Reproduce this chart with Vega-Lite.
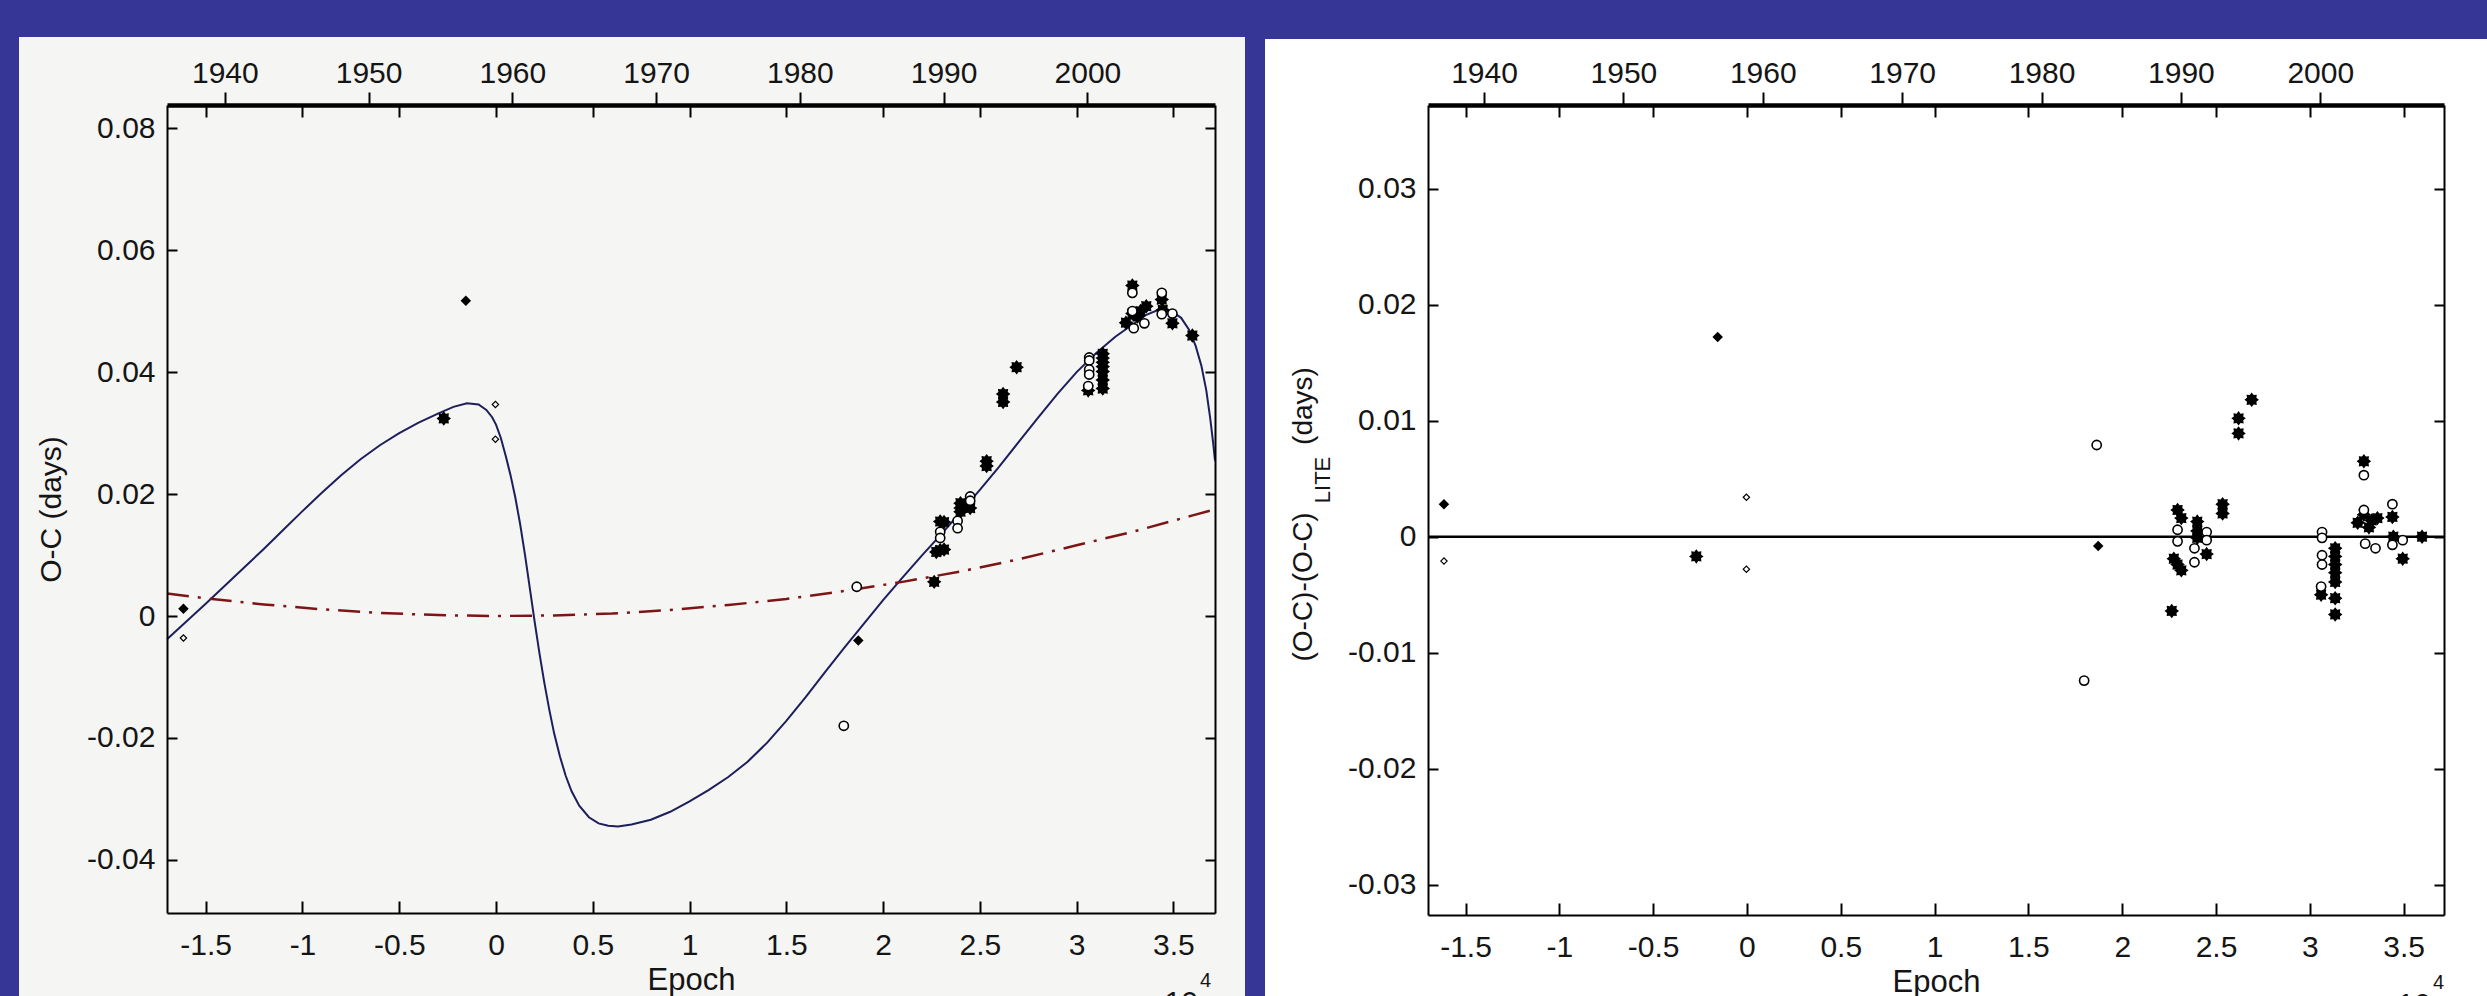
{
"$schema": "https://vega.github.io/schema/vega-lite/v6.json",
"background": "#363696",
"padding": {"left": 19, "top": 37, "right": 0, "bottom": 0},
"spacing": 20,
"datasets": {
"obs": [
{"epoch":-16150,"oc":0.0012,"res":0.0028,"kind":"dia"},
{"epoch":-16150,"oc":-0.0036,"res":-0.0021,"kind":"odia"},
{"epoch":-2700,"oc":0.0324,"res":-0.0017,"kind":"star"},
{"epoch":-1560,"oc":0.0517,"res":0.0172,"kind":"dia"},
{"epoch":-30,"oc":0.0347,"res":0.0034,"kind":"odia"},
{"epoch":-30,"oc":0.0290,"res":-0.0028,"kind":"odia"},
{"epoch":17970,"oc":-0.0180,"res":-0.0124,"kind":"circle"},
{"epoch":18640,"oc":0.0048,"res":0.0079,"kind":"circle"},
{"epoch":18720,"oc":-0.0040,"res":-0.0008,"kind":"dia"},
{"epoch":22640,"oc":0.0056,"res":-0.0064,"kind":"star"},
{"epoch":22950,"oc":0.0155,"res":0.0023,"kind":"star"},
{"epoch":23150,"oc":0.0154,"res":0.0016,"kind":"star"},
{"epoch":22950,"oc":0.0138,"res":0.0006,"kind":"circle"},
{"epoch":22950,"oc":0.0128,"res":-0.0004,"kind":"circle"},
{"epoch":22750,"oc":0.0105,"res":-0.0019,"kind":"star"},
{"epoch":22950,"oc":0.0108,"res":-0.0024,"kind":"star"},
{"epoch":23150,"oc":0.0109,"res":-0.0029,"kind":"star"},
{"epoch":23850,"oc":0.0156,"res":-0.0010,"kind":"circle"},
{"epoch":23850,"oc":0.0144,"res":-0.0022,"kind":"circle"},
{"epoch":24000,"oc":0.0185,"res":0.0013,"kind":"star"},
{"epoch":24000,"oc":0.0177,"res":0.0005,"kind":"star"},
{"epoch":24000,"oc":0.0171,"res":-0.0001,"kind":"star"},
{"epoch":24500,"oc":0.0196,"res":0.0004,"kind":"circle"},
{"epoch":24500,"oc":0.0189,"res":-0.0003,"kind":"circle"},
{"epoch":24500,"oc":0.0177,"res":-0.0015,"kind":"star"},
{"epoch":25350,"oc":0.0254,"res":0.0028,"kind":"star"},
{"epoch":25350,"oc":0.0246,"res":0.0020,"kind":"star"},
{"epoch":26200,"oc":0.0364,"res":0.0102,"kind":"star"},
{"epoch":26200,"oc":0.0351,"res":0.0089,"kind":"star"},
{"epoch":26900,"oc":0.0408,"res":0.0118,"kind":"star"},
{"epoch":30650,"oc":0.0424,"res":0.0004,"kind":"circle"},
{"epoch":30650,"oc":0.0419,"res":-0.0001,"kind":"circle"},
{"epoch":30650,"oc":0.0404,"res":-0.0016,"kind":"circle"},
{"epoch":30650,"oc":0.0396,"res":-0.0024,"kind":"circle"},
{"epoch":30600,"oc":0.0377,"res":-0.0043,"kind":"circle"},
{"epoch":30600,"oc":0.0370,"res":-0.0050,"kind":"star"},
{"epoch":31350,"oc":0.0430,"res":-0.0010,"kind":"star"},
{"epoch":31350,"oc":0.0423,"res":-0.0017,"kind":"star"},
{"epoch":31350,"oc":0.0416,"res":-0.0024,"kind":"star"},
{"epoch":31350,"oc":0.0409,"res":-0.0031,"kind":"star"},
{"epoch":31350,"oc":0.0401,"res":-0.0039,"kind":"star"},
{"epoch":31350,"oc":0.0387,"res":-0.0053,"kind":"star"},
{"epoch":31350,"oc":0.0373,"res":-0.0067,"kind":"star"},
{"epoch":32880,"oc":0.0542,"res":0.0065,"kind":"star"},
{"epoch":32880,"oc":0.0530,"res":0.0053,"kind":"circle"},
{"epoch":32550,"oc":0.0481,"res":0.0012,"kind":"star"},
{"epoch":32880,"oc":0.0496,"res":0.0019,"kind":"star"},
{"epoch":33150,"oc":0.0491,"res":0.0008,"kind":"star"},
{"epoch":33300,"oc":0.0500,"res":0.0014,"kind":"star"},
{"epoch":32880,"oc":0.0500,"res":0.0023,"kind":"circle"},
{"epoch":32950,"oc":0.0472,"res":-0.0006,"kind":"circle"},
{"epoch":33500,"oc":0.0480,"res":-0.0010,"kind":"circle"},
{"epoch":33600,"oc":0.0508,"res":0.0016,"kind":"star"},
{"epoch":34400,"oc":0.0530,"res":0.0028,"kind":"circle"},
{"epoch":34400,"oc":0.0519,"res":0.0017,"kind":"star"},
{"epoch":34450,"oc":0.0502,"res":0.0000,"kind":"star"},
{"epoch":34400,"oc":0.0495,"res":-0.0007,"kind":"circle"},
{"epoch":34950,"oc":0.0496,"res":-0.0003,"kind":"circle"},
{"epoch":34950,"oc":0.0480,"res":-0.0019,"kind":"star"},
{"epoch":35980,"oc":0.0460,"res":0.0000,"kind":"star"}
],
"lite": [
{"epoch":-17000,"oc":-0.0038},{"epoch":-16000,"oc":-0.0009},{"epoch":-15000,"oc":0.0020},{"epoch":-14000,"oc":0.0050},
{"epoch":-13000,"oc":0.0080},{"epoch":-12000,"oc":0.0110},{"epoch":-11000,"oc":0.0141},{"epoch":-10000,"oc":0.0172},
{"epoch":-9000,"oc":0.0202},{"epoch":-8000,"oc":0.0231},{"epoch":-7000,"oc":0.0257},{"epoch":-6000,"oc":0.0280},
{"epoch":-5000,"oc":0.0300},{"epoch":-4000,"oc":0.0317},{"epoch":-3000,"oc":0.0332},{"epoch":-2200,"oc":0.0343},
{"epoch":-1500,"oc":0.0349},{"epoch":-900,"oc":0.0347},{"epoch":-500,"oc":0.0338},{"epoch":-200,"oc":0.0326},
{"epoch":0,"oc":0.0314},{"epoch":250,"oc":0.0292},{"epoch":500,"oc":0.0263},{"epoch":750,"oc":0.0231},
{"epoch":1000,"oc":0.0194},{"epoch":1250,"oc":0.0150},{"epoch":1500,"oc":0.0100},{"epoch":1750,"oc":0.0045},
{"epoch":2000,"oc":-0.0010},{"epoch":2250,"oc":-0.0062},{"epoch":2500,"oc":-0.0110},{"epoch":2750,"oc":-0.0153},
{"epoch":3000,"oc":-0.0192},{"epoch":3300,"oc":-0.0230},{"epoch":3600,"oc":-0.0262},{"epoch":3900,"oc":-0.0287},
{"epoch":4300,"oc":-0.0311},{"epoch":4800,"oc":-0.0330},{"epoch":5300,"oc":-0.0340},{"epoch":5800,"oc":-0.0344},
{"epoch":6300,"oc":-0.0345},{"epoch":7000,"oc":-0.0342},{"epoch":8000,"oc":-0.0334},{"epoch":9000,"oc":-0.0321},
{"epoch":10000,"oc":-0.0304},{"epoch":11000,"oc":-0.0285},{"epoch":12000,"oc":-0.0264},{"epoch":13000,"oc":-0.0239},
{"epoch":14000,"oc":-0.0208},{"epoch":15000,"oc":-0.0172},{"epoch":16000,"oc":-0.0133},{"epoch":17000,"oc":-0.0092},
{"epoch":18000,"oc":-0.0052},{"epoch":19000,"oc":-0.0013},{"epoch":20000,"oc":0.0026},{"epoch":21000,"oc":0.0063},
{"epoch":22000,"oc":0.0099},{"epoch":23000,"oc":0.0134},{"epoch":24000,"oc":0.0170},{"epoch":25000,"oc":0.0207},
{"epoch":26000,"oc":0.0245},{"epoch":27000,"oc":0.0285},{"epoch":28000,"oc":0.0325},{"epoch":29000,"oc":0.0364},
{"epoch":30000,"oc":0.0400},{"epoch":31000,"oc":0.0431},{"epoch":32000,"oc":0.0458},{"epoch":32800,"oc":0.0476},
{"epoch":33600,"oc":0.0494},{"epoch":34300,"oc":0.0503},{"epoch":34900,"oc":0.0500},{"epoch":35400,"oc":0.0489},
{"epoch":35800,"oc":0.0470},{"epoch":36150,"oc":0.0443},{"epoch":36450,"oc":0.0410},{"epoch":36700,"oc":0.0370},
{"epoch":36900,"oc":0.0325},{"epoch":37050,"oc":0.0285},{"epoch":37150,"oc":0.0255}
],
"quad": [
{"epoch":-17000,"oc":0.0037},{"epoch":-15000,"oc":0.0029},{"epoch":-12000,"oc":0.0019},{"epoch":-9000,"oc":0.0011},
{"epoch":-6000,"oc":0.0005},{"epoch":-3000,"oc":0.00015},{"epoch":0,"oc":0.0},{"epoch":3000,"oc":0.0001},
{"epoch":6000,"oc":0.0004},{"epoch":9000,"oc":0.0010},{"epoch":12000,"oc":0.0018},{"epoch":15000,"oc":0.0028},
{"epoch":18000,"oc":0.0041},{"epoch":21000,"oc":0.0056},{"epoch":24000,"oc":0.0073},{"epoch":27000,"oc":0.0093},
{"epoch":30000,"oc":0.0116},{"epoch":33000,"oc":0.0139},{"epoch":36000,"oc":0.0165},{"epoch":37150,"oc":0.0175}
]
},
"config": {
"view": {"stroke": null},
"font": "Liberation Sans",
"axis": {"grid": false, "domainColor": "#000000", "tickColor": "#000000", "labelColor": "#151515", "titleColor": "#151515",
"labelFont": "Liberation Sans", "titleFont": "Liberation Sans", "labelFontSize": 30, "titleFontSize": 30, "titleFontWeight": "normal",
"tickWidth": 2, "domainWidth": 2, "labelFlush": false, "labelOverlap": false, "labelBound": false}
},
"hconcat": [
{
"width": 1048, "height": 808,
"resolve": {"axis": {"x": "independent", "y": "independent"}},
"layer": [
{"data": {"values": [{}]}, "mark": {"type": "rect", "fill": "#f5f5f3", "clip": false},
 "encoding": {
  "x": {"datum": -24647, "type": "quantitative", "scale": {"domain": [-17000, 37150], "nice": false, "zero": false}, "axis": null},
  "x2": {"datum": 38700},
  "y": {"datum": 0.09495, "type": "quantitative", "scale": {"domain": [-0.0487, 0.0838], "nice": false, "zero": false}, "axis": null},
  "y2": {"datum": -0.06231}}},
{"data": {"name": "lite"}, "mark": {"type": "line", "color": "#1e1e5c", "strokeWidth": 2},
 "encoding": {
  "x": {"field": "epoch", "type": "quantitative", "scale": {"domain": [-17000, 37150], "nice": false, "zero": false},
   "axis": {"zindex": 2, "orient": "bottom", "values": [-15000,-10000,-5000,0,5000,10000,15000,20000,25000,30000,35000], "labelExpr": "toString(datum.value/10000)", "tickSize": -12, "labelPadding": 29, "title": "Epoch", "titleFontSize": 31, "titlePadding": 5}},
  "y": {"field": "oc", "type": "quantitative", "scale": {"domain": [-0.0487, 0.0838], "nice": false, "zero": false},
   "axis": {"zindex": 2, "orient": "left", "values": [-0.04,-0.02,0,0.02,0.04,0.06,0.08], "labelExpr": "toString(datum.value)", "tickSize": -10, "labelPadding": 22, "title": "O-C (days)", "titlePadding": 20}}}},
{"data": {"name": "quad"}, "mark": {"type": "line", "color": "#7d1515", "strokeWidth": 2.5, "strokeDash": [22, 9, 3, 9]},
 "encoding": {
  "x": {"field": "epoch", "type": "quantitative", "scale": {"domain": [-17000, 37150], "nice": false, "zero": false},
   "axis": {"zindex": 2, "orient": "top", "values": [-15000,-10000,-5000,0,5000,10000,15000,20000,25000,30000,35000], "labels": false, "tickSize": -12, "domain": false, "title": null}},
  "y": {"field": "oc", "type": "quantitative", "scale": {"domain": [-0.0487, 0.0838], "nice": false, "zero": false},
   "axis": {"zindex": 2, "orient": "right", "values": [-0.04,-0.02,0,0.02,0.04,0.06,0.08], "labels": false, "tickSize": -10, "title": null}}}},
{"data": {"name": "obs"}, "transform": [{"filter": "datum.kind === 'star'"}],
 "mark": {"type": "point", "shape": "M0,-1L0.268,-0.647L0.707,-0.707L0.647,-0.268L1,0L0.647,0.268L0.707,0.707L0.268,0.647L0,1L-0.268,0.647L-0.707,0.707L-0.647,0.268L-1,0L-0.647,-0.268L-0.707,-0.707L-0.268,-0.647Z", "filled": true, "color": "#000000", "size": 210, "opacity": 1},
 "encoding": {
  "x": {"field": "epoch", "type": "quantitative", "scale": {"domain": [-17000, 37150], "nice": false, "zero": false},
   "axis": {"zindex": 2, "orient": "top", "values": [-14012,-6584,844,8272,15700,23128,30556], "labelExpr": "toString(1940 + round((datum.value + 14012) / 742.8) * 1)", "tickSize": 13, "labelPadding": 4, "domainWidth": 4.5, "title": null}},
  "y": {"field": "oc", "type": "quantitative", "scale": {"domain": [-0.0487, 0.0838], "nice": false, "zero": false}, "axis": null}}},
{"data": {"name": "obs"}, "transform": [{"filter": "datum.kind === 'circle'"}],
 "mark": {"type": "point", "shape": "circle", "filled": false, "fill": "#ffffff", "stroke": "#000000", "strokeWidth": 1.6, "size": 85, "opacity": 1},
 "encoding": {
  "x": {"field": "epoch", "type": "quantitative", "scale": {"domain": [-17000, 37150], "nice": false, "zero": false}, "axis": null},
  "y": {"field": "oc", "type": "quantitative", "scale": {"domain": [-0.0487, 0.0838], "nice": false, "zero": false}, "axis": null}}},
{"data": {"name": "obs"}, "transform": [{"filter": "datum.kind === 'dia'"}],
 "mark": {"type": "point", "shape": "diamond", "filled": true, "color": "#000000", "size": 110, "opacity": 1},
 "encoding": {
  "x": {"field": "epoch", "type": "quantitative", "scale": {"domain": [-17000, 37150], "nice": false, "zero": false}, "axis": null},
  "y": {"field": "oc", "type": "quantitative", "scale": {"domain": [-0.0487, 0.0838], "nice": false, "zero": false}, "axis": null}}},
{"data": {"name": "obs"}, "transform": [{"filter": "datum.kind === 'odia'"}],
 "mark": {"type": "point", "shape": "diamond", "filled": false, "color": "#000000", "strokeWidth": 1.2, "size": 40, "opacity": 1},
 "encoding": {
  "x": {"field": "epoch", "type": "quantitative", "scale": {"domain": [-17000, 37150], "nice": false, "zero": false}, "axis": null},
  "y": {"field": "oc", "type": "quantitative", "scale": {"domain": [-0.0487, 0.0838], "nice": false, "zero": false}, "axis": null}}},
{"data": {"values": [{}]}, "mark": {"type": "text", "text": "x 10", "align": "right", "baseline": "alphabetic", "fontSize": 30, "font": "Liberation Sans", "color": "#151515", "clip": false},
 "encoding": {
  "x": {"datum": 36271, "type": "quantitative", "scale": {"domain": [-17000, 37150], "nice": false, "zero": false}, "axis": null},
  "y": {"datum": -0.06486, "type": "quantitative", "scale": {"domain": [-0.0487, 0.0838], "nice": false, "zero": false}, "axis": null}}},
{"data": {"values": [{}]}, "mark": {"type": "text", "text": "4", "align": "left", "baseline": "alphabetic", "fontSize": 20, "font": "Liberation Sans", "color": "#151515", "clip": false},
 "encoding": {
  "x": {"datum": 36374, "type": "quantitative", "scale": {"domain": [-17000, 37150], "nice": false, "zero": false}, "axis": null},
  "y": {"datum": -0.06084, "type": "quantitative", "scale": {"domain": [-0.0487, 0.0838], "nice": false, "zero": false}, "axis": null}}}
]
},
{
"width": 1016, "height": 810,
"resolve": {"axis": {"x": "independent", "y": "independent"}},
"layer": [
{"data": {"values": [{}]}, "mark": {"type": "rect", "fill": "#ffffff", "clip": false},
 "encoding": {
  "x": {"datum": -25687, "type": "quantitative", "scale": {"domain": [-17000, 37150], "nice": false, "zero": false}, "axis": null},
  "x2": {"datum": 39442},
  "y": {"datum": 0.04289, "type": "quantitative", "scale": {"domain": [-0.0326, 0.0372], "nice": false, "zero": false}, "axis": null},
  "y2": {"datum": -0.03975}}},
{"data": {"values": [{}]}, "mark": {"type": "rule", "color": "#000000", "strokeWidth": 2.5},
 "encoding": {
  "y": {"datum": 0, "type": "quantitative", "scale": {"domain": [-0.0326, 0.0372], "nice": false, "zero": false}, "axis": null}}},
{"data": {"name": "obs"}, "transform": [{"filter": "datum.kind === 'star'"}],
 "mark": {"type": "point", "shape": "M0,-1L0.268,-0.647L0.707,-0.707L0.647,-0.268L1,0L0.647,0.268L0.707,0.707L0.268,0.647L0,1L-0.268,0.647L-0.707,0.707L-0.647,0.268L-1,0L-0.647,-0.268L-0.707,-0.707L-0.268,-0.647Z", "filled": true, "color": "#000000", "size": 210, "opacity": 1},
 "encoding": {
  "x": {"field": "epoch", "type": "quantitative", "scale": {"domain": [-17000, 37150], "nice": false, "zero": false},
   "axis": {"zindex": 2, "orient": "bottom", "values": [-15000,-10000,-5000,0,5000,10000,15000,20000,25000,30000,35000], "labelExpr": "toString(datum.value/10000)", "tickSize": -12, "labelPadding": 29, "title": "Epoch", "titleFontSize": 31, "titlePadding": 5}},
  "y": {"field": "res", "type": "quantitative", "scale": {"domain": [-0.0326, 0.0372], "nice": false, "zero": false},
   "axis": {"zindex": 2, "orient": "left", "values": [-0.03,-0.02,-0.01,0,0.01,0.02,0.03], "labelExpr": "toString(datum.value)", "tickSize": -10, "labelPadding": 22, "title": null}}}},
{"data": {"name": "obs"}, "transform": [{"filter": "datum.kind === 'circle'"}],
 "mark": {"type": "point", "shape": "circle", "filled": false, "fill": "#ffffff", "stroke": "#000000", "strokeWidth": 1.6, "size": 85, "opacity": 1},
 "encoding": {
  "x": {"field": "epoch", "type": "quantitative", "scale": {"domain": [-17000, 37150], "nice": false, "zero": false},
   "axis": {"zindex": 2, "orient": "top", "values": [-15000,-10000,-5000,0,5000,10000,15000,20000,25000,30000,35000], "labels": false, "tickSize": -12, "domain": false, "title": null}},
  "y": {"field": "res", "type": "quantitative", "scale": {"domain": [-0.0326, 0.0372], "nice": false, "zero": false},
   "axis": {"zindex": 2, "orient": "right", "values": [-0.03,-0.02,-0.01,0,0.01,0.02,0.03], "labels": false, "tickSize": -10, "title": null}}}},
{"data": {"name": "obs"}, "transform": [{"filter": "datum.kind === 'dia'"}],
 "mark": {"type": "point", "shape": "diamond", "filled": true, "color": "#000000", "size": 110, "opacity": 1},
 "encoding": {
  "x": {"field": "epoch", "type": "quantitative", "scale": {"domain": [-17000, 37150], "nice": false, "zero": false},
   "axis": {"zindex": 2, "orient": "top", "values": [-14012,-6584,844,8272,15700,23128,30556], "labelExpr": "toString(1940 + round((datum.value + 14012) / 742.8) * 1)", "tickSize": 13, "labelPadding": 4, "domainWidth": 4.5, "title": null}},
  "y": {"field": "res", "type": "quantitative", "scale": {"domain": [-0.0326, 0.0372], "nice": false, "zero": false}, "axis": null}}},
{"data": {"name": "obs"}, "transform": [{"filter": "datum.kind === 'odia'"}],
 "mark": {"type": "point", "shape": "diamond", "filled": false, "color": "#000000", "strokeWidth": 1.2, "size": 40, "opacity": 1},
 "encoding": {
  "x": {"field": "epoch", "type": "quantitative", "scale": {"domain": [-17000, 37150], "nice": false, "zero": false}, "axis": null},
  "y": {"field": "res", "type": "quantitative", "scale": {"domain": [-0.0326, 0.0372], "nice": false, "zero": false}, "axis": null}}},
{"data": {"values": [{}]}, "mark": {"type": "text", "text": "(O-C)-(O-C)", "angle": 270, "align": "center", "baseline": "middle", "fontSize": 28, "font": "Liberation Sans", "color": "#151515", "clip": false},
 "encoding": {
  "x": {"datum": -23609, "type": "quantitative", "scale": {"domain": [-17000, 37150], "nice": false, "zero": false}, "axis": null},
  "y": {"datum": -0.00433, "type": "quantitative", "scale": {"domain": [-0.0326, 0.0372], "nice": false, "zero": false}, "axis": null}}},
{"data": {"values": [{}]}, "mark": {"type": "text", "text": "LITE", "angle": 270, "align": "center", "baseline": "middle", "fontSize": 22, "font": "Liberation Sans", "color": "#151515", "clip": false},
 "encoding": {
  "x": {"datum": -22596, "type": "quantitative", "scale": {"domain": [-17000, 37150], "nice": false, "zero": false}, "axis": null},
  "y": {"datum": 0.00489, "type": "quantitative", "scale": {"domain": [-0.0326, 0.0372], "nice": false, "zero": false}, "axis": null}}},
{"data": {"values": [{}]}, "mark": {"type": "text", "text": "(days)", "angle": 270, "align": "center", "baseline": "middle", "fontSize": 28, "font": "Liberation Sans", "color": "#151515", "clip": false},
 "encoding": {
  "x": {"datum": -23609, "type": "quantitative", "scale": {"domain": [-17000, 37150], "nice": false, "zero": false}, "axis": null},
  "y": {"datum": 0.01126, "type": "quantitative", "scale": {"domain": [-0.0326, 0.0372], "nice": false, "zero": false}, "axis": null}}},
{"data": {"values": [{}]}, "mark": {"type": "text", "text": "x 10", "align": "right", "baseline": "alphabetic", "fontSize": 30, "font": "Liberation Sans", "color": "#151515", "clip": false},
 "encoding": {
  "x": {"datum": 36456, "type": "quantitative", "scale": {"domain": [-17000, 37150], "nice": false, "zero": false}, "axis": null},
  "y": {"datum": -0.04109, "type": "quantitative", "scale": {"domain": [-0.0326, 0.0372], "nice": false, "zero": false}, "axis": null}}},
{"data": {"values": [{}]}, "mark": {"type": "text", "text": "4", "align": "left", "baseline": "alphabetic", "fontSize": 20, "font": "Liberation Sans", "color": "#151515", "clip": false},
 "encoding": {
  "x": {"datum": 36563, "type": "quantitative", "scale": {"domain": [-17000, 37150], "nice": false, "zero": false}, "axis": null},
  "y": {"datum": -0.03897, "type": "quantitative", "scale": {"domain": [-0.0326, 0.0372], "nice": false, "zero": false}, "axis": null}}}
]
}
]
}
